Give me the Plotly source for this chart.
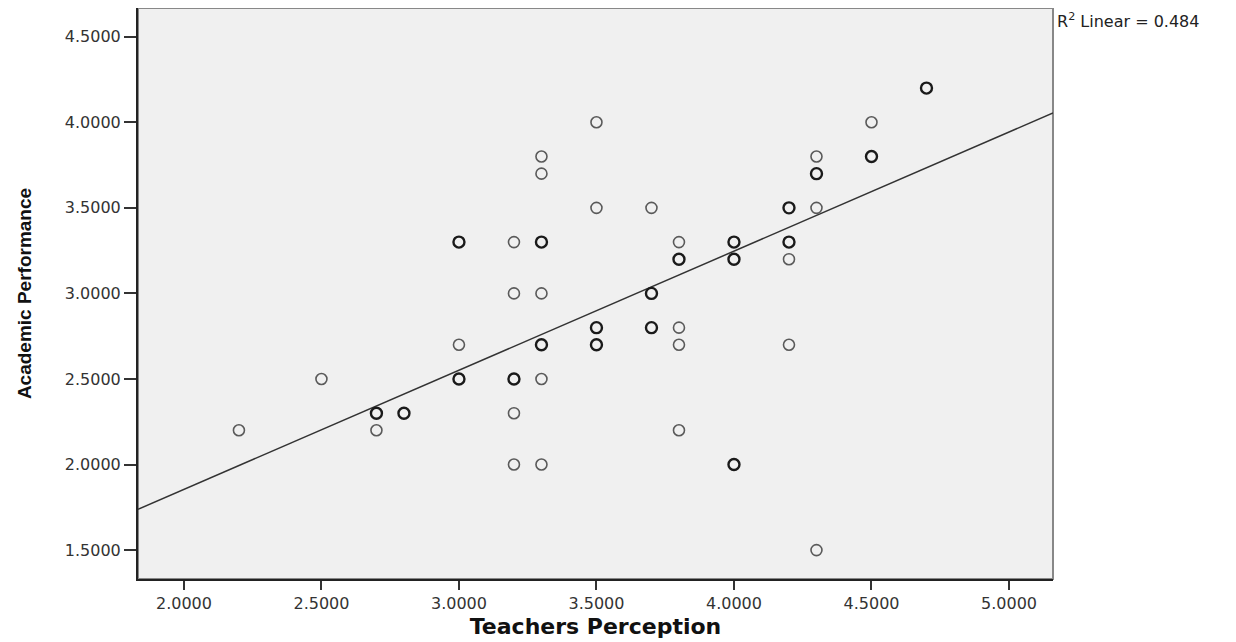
import plotly.graph_objects as go

# Data
teachers_perception = [2.2, 2.5, 2.7, 2.7, 2.8,
                       3.0, 3.0, 3.0,
                       3.2, 3.2, 3.2, 3.2, 3.2,
                       3.3, 3.3, 3.3, 3.3, 3.3, 3.3, 3.3,
                       3.5, 3.5, 3.5, 3.5,
                       3.7, 3.7, 3.7,
                       3.8, 3.8, 3.8, 3.8, 3.8,
                       4.0, 4.0, 4.0,
                       4.2, 4.2, 4.2, 4.2,
                       4.3, 4.3, 4.3, 4.3,
                       4.5, 4.5,
                       4.7]
academic_performance = [2.2, 2.5, 2.3, 2.2, 2.3,
                        3.3, 2.7, 2.5,
                        3.3, 3.0, 2.5, 2.3, 2.0,
                        3.8, 3.7, 3.3, 3.0, 2.7, 2.5, 2.0,
                        4.0, 3.5, 2.8, 2.7,
                        3.5, 3.0, 2.8,
                        3.3, 3.2, 2.8, 2.7, 2.2,
                        3.3, 3.2, 2.0,
                        3.5, 3.3, 3.2, 2.7,
                        3.8, 3.7, 3.5, 1.5,
                        4.0, 3.8,
                        4.2]
# 1 = single case, 2 = overlapping cases (drawn darker)
overlap_count = [1, 1, 2, 1, 2,
                 2, 1, 2,
                 1, 1, 2, 1, 1,
                 1, 1, 2, 1, 2, 1, 1,
                 1, 1, 2, 2,
                 1, 2, 2,
                 1, 2, 1, 1, 1,
                 2, 2, 2,
                 2, 2, 1, 1,
                 1, 2, 1, 1,
                 1, 2,
                 2]

fit_intercept = 0.463
fit_slope = 0.696
r_squared = 0.484

x_ticks = [2.0, 2.5, 3.0, 3.5, 4.0, 4.5, 5.0]
y_ticks = [1.5, 2.0, 2.5, 3.0, 3.5, 4.0, 4.5]
x_range = [1.833, 5.16]
y_range = [1.331, 4.668]

fig = go.Figure()

single_x = [x for x, n in zip(teachers_perception, overlap_count) if n == 1]
single_y = [y for y, n in zip(academic_performance, overlap_count) if n == 1]
multi_x = [x for x, n in zip(teachers_perception, overlap_count) if n > 1]
multi_y = [y for y, n in zip(academic_performance, overlap_count) if n > 1]

fig.add_trace(go.Scatter(
    x=[x_range[0], x_range[1]],
    y=[fit_intercept + fit_slope * x_range[0], fit_intercept + fit_slope * x_range[1]],
    mode="lines", line=dict(color="#333333", width=1.5),
    showlegend=False, hoverinfo="skip"))

fig.add_trace(go.Scatter(
    x=single_x, y=single_y, mode="markers",
    marker=dict(symbol="circle-open", size=11, color="#5a5a5a", line=dict(width=1.6)),
    showlegend=False))
fig.add_trace(go.Scatter(
    x=multi_x, y=multi_y, mode="markers",
    marker=dict(symbol="circle-open", size=11, color="#1a1a1a", line=dict(width=2.4)),
    showlegend=False))

axis_font = dict(family="DejaVu Sans", size=16, color="#333333")

fig.update_layout(
    width=1228, height=634,
    margin=dict(l=130, r=183, t=0, b=63),
    paper_bgcolor="white",
    plot_bgcolor="#f0f0f0",
    showlegend=False,
    xaxis=dict(
        range=x_range, tickvals=x_ticks,
        ticktext=[f"{v:.4f}" for v in x_ticks],
        showgrid=False, zeroline=False,
        showline=True, linecolor="#222222", linewidth=2,
        ticks="outside", ticklen=9, tickwidth=2, tickcolor="#333333",
        tickfont=axis_font,
        title=dict(text="Teachers Perception",
                   font=dict(family="DejaVu Sans", size=22, color="#111111", weight="bold"),
                   standoff=6),
    ),
    yaxis=dict(
        range=y_range, tickvals=y_ticks,
        ticktext=[f"{v:.4f}" for v in y_ticks],
        showgrid=False, zeroline=False,
        showline=True, linecolor="#222222", linewidth=2,
        ticks="outside", ticklen=12, tickwidth=2, tickcolor="#333333",
        tickfont=axis_font,
        title=dict(text="Academic Performance",
                   font=dict(family="Liberation Sans", size=19,
                             color="#111111", weight="bold"),
                   standoff=28),
    ),
    shapes=[dict(type="rect", xref="paper", yref="paper", x0=0, x1=1, y0=0, y1=1,
                 line=dict(color="#888888", width=2), layer="below")],
    annotations=[dict(
        xref="paper", yref="paper", x=1.0, y=1.0, xanchor="left", yanchor="top",
        xshift=2, yshift=0,
        text=f"R<sup>2</sup> Linear = {r_squared:.3f}", showarrow=False,
        font=dict(family="DejaVu Sans", size=16, color="#222222"))],
)

fig.write_html("out.html")
